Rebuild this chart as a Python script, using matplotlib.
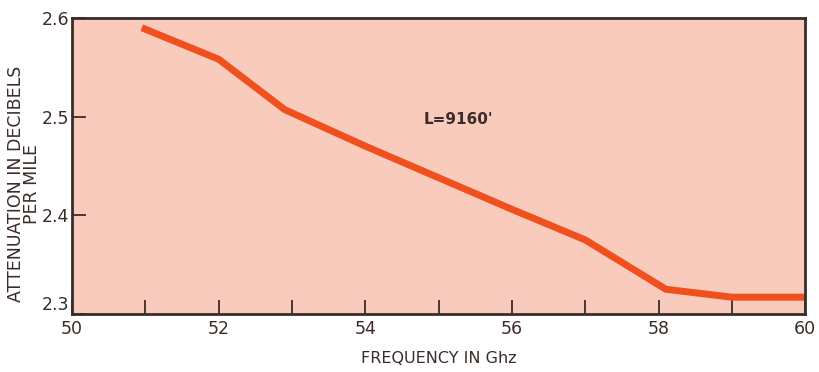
import matplotlib.pyplot as plt

# Attenuation vs frequency, L = 9160 ft
freq = [50.95, 52.0, 52.9, 54.0, 55.0, 56.0, 57.0, 58.1, 59.0, 60.0]
atten = [2.590, 2.558, 2.507, 2.470, 2.438, 2.406, 2.375, 2.325, 2.317, 2.317]

xticks = [50, 52, 54, 56, 58, 60]
yticks = [2.3, 2.4, 2.5, 2.6]

plt.rcParams['font.family'] = ['DejaVu Sans']
ink = '#3a2c28'

fig = plt.figure(figsize=(8.2, 3.72), dpi=100)
ax = fig.add_axes([0.088, 0.156, 0.894, 0.796])
ax.set_facecolor('#f8cbbd')

ax.plot(freq, atten, color='#f0501e', linewidth=5, solid_capstyle='butt')
ax.text(55.27, 2.497, "L=9160'", fontsize=11, fontweight='bold', color=ink,
        ha='center', va='center')

ax.set_xlim(50, 60)
ax.set_ylim(2.3, 2.6)
ax.set_xticks(xticks)
ax.set_xticks([51, 53, 55, 57, 59], minor=True)
ax.set_yticks(yticks)
ax.set_xticklabels([str(v) for v in xticks])
ax.set_yticklabels([f'{v:.1f}' for v in yticks])

ax.tick_params(axis='both', direction='in', length=10, width=1.3, color=ink,
               labelcolor=ink, labelsize=12.5)
ax.tick_params(axis='x', which='minor', direction='in', length=10, width=1.3, color=ink)
ax.tick_params(axis='x', pad=4)
ax.tick_params(axis='y', pad=2)
for s in ax.spines.values():
    s.set_color(ink)
    s.set_linewidth(2)

# keep the bottom y label clear of the first x label
ax.get_yticklabels()[0].set_verticalalignment('bottom')

ax.set_xlabel('FREQUENCY IN Ghz', fontsize=11.5, color=ink, labelpad=10)
ax.set_ylabel('ATTENUATION IN DECIBELS\nPER MILE', fontsize=12.5, color=ink,
              linespacing=0.85)
ax.yaxis.set_label_coords(-0.042, 0.44)

fig.savefig('out.png', dpi=100, facecolor='white')
